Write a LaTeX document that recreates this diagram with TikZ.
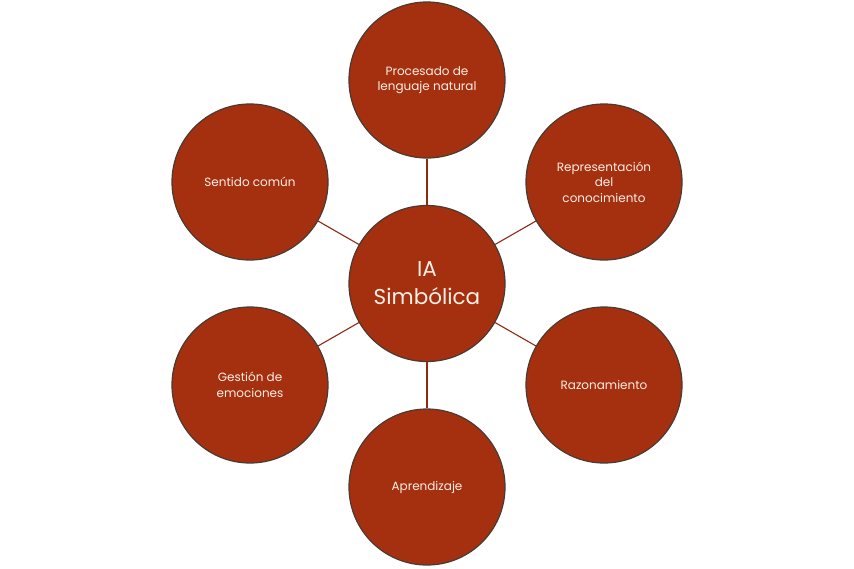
\documentclass[tikz,border=0pt]{standalone}
\usepackage{fontspec}
\setmainfont{Poppins}
\usetikzlibrary{backgrounds}
\definecolor{fillc}{HTML}{A5300F}
\definecolor{edgec}{HTML}{4A3A32}
\definecolor{linec}{HTML}{8E2A12}
\definecolor{textc}{HTML}{FBEFE6}
\begin{document}
\begin{tikzpicture}[x=1pt,y=-1pt,
  bubble/.style={circle,fill=fillc,draw=edgec,line width=1.2pt,minimum size=156pt,inner sep=0pt,
    text=textc,align=center,font=\fontsize{12}{15.5}\selectfont},
  hub/.style={bubble,font=\fontsize{21.5}{28}\selectfont},
  link/.style={draw=linec,line width=1.1pt}]
\useasboundingbox (0,0) rectangle (854,568);
\node[hub] (c) at (427,283.5) {IA\\Simbólica};
\node[bubble] (n1) at (427,80) {Procesado de\\lenguaje natural};
\node[bubble] (n2) at (604,182) {Representación\\del\\conocimiento};
\node[bubble] (n3) at (604,385) {Razonamiento};
\node[bubble] (n4) at (427,487) {Aprendizaje};
\node[bubble] (n5) at (250,385) {Gestión de\\emociones};
\node[bubble] (n6) at (250,182) {Sentido común};
\begin{scope}[on background layer]
\foreach \n in {n1,n2,n3,n4,n5,n6}{\draw[link] (c) -- (\n);}
\end{scope}
\end{tikzpicture}
\end{document}
